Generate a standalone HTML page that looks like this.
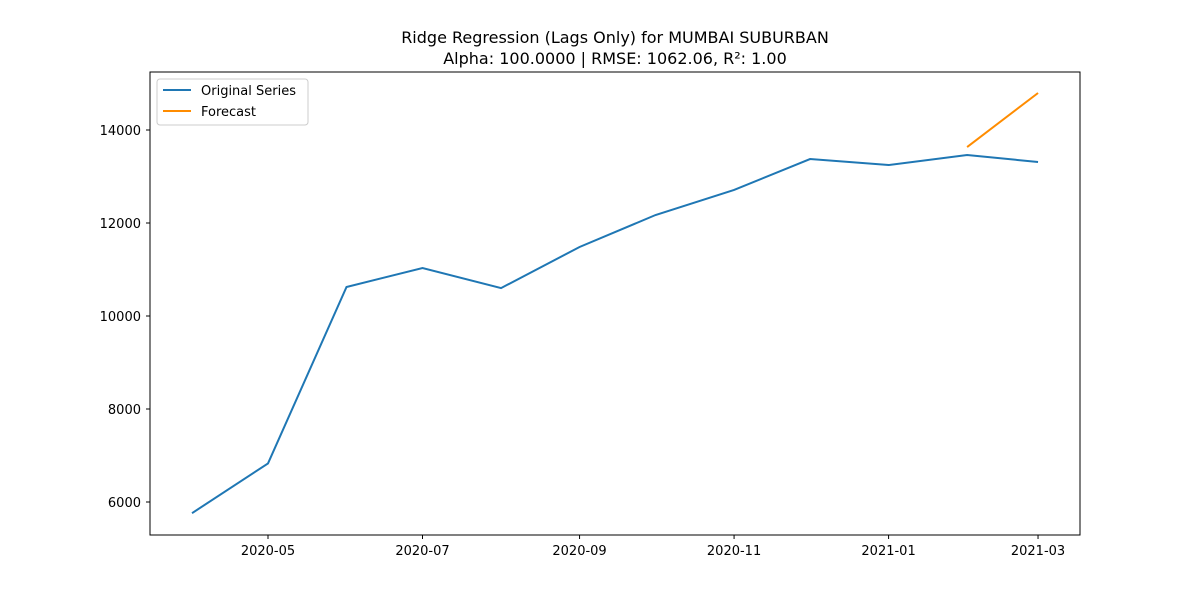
<!DOCTYPE html>
<html><head><meta charset="utf-8"><style>
body{margin:0;background:#fff;font-family:"Liberation Sans","DejaVu Sans",sans-serif}
svg text{font-family:"DejaVu Sans","Liberation Sans",sans-serif}
</style></head><body>
<svg id="chart" width="1200" height="600" xmlns="http://www.w3.org/2000/svg">
<rect width="1200" height="600" fill="#fff"/>
<text x="615" y="43" text-anchor="middle" font-size="16">Ridge Regression (Lags Only) for MUMBAI SUBURBAN</text>
<text x="615" y="64" text-anchor="middle" font-size="16">Alpha: 100.0000 | RMSE: 1062.06, R²: 1.00</text>
<g id="axes"></g>
<rect x="150" y="72" width="930" height="463" fill="none" stroke="#000" stroke-width="1"/>
<g>
<rect x="157" y="79" width="151" height="46" fill="#fff" stroke="#ccc" rx="3"/>
<g><line x1="163" y1="90" x2="191" y2="90" stroke="#1f77b4" stroke-width="2"/><text x="201" y="95" font-size="13">Original Series</text></g>
<g><line x1="163" y1="111" x2="191" y2="111" stroke="#ff8c00" stroke-width="2"/><text x="201" y="116" font-size="13">Forecast</text></g>
</g>
</svg>
<script>
const dates=["2020-04-01","2020-05-01","2020-06-01","2020-07-01","2020-08-01","2020-09-01","2020-10-01","2020-11-01","2020-12-01","2021-01-01","2021-02-01","2021-03-01"];
const original=[5760,6830,10624,11032,10600,11484,12172,12710,13376,13247,13462,13312];
const forecastDates=["2021-02-01","2021-03-01"];
const forecast=[13634,14796];
const yTicks=[6000,8000,10000,12000,14000];
const xTicks=["2020-05","2020-07","2020-09","2020-11","2021-01","2021-03"];
const NS="http://www.w3.org/2000/svg";
const t0=Date.parse("2020-05-01"),DAY=86400000;
function xs(d){return 268+(Date.parse(d)-t0)/DAY*2.533;}
function ys(v){return 502-(v-6000)*0.0465;}
const svg=document.getElementById('chart'),ax=document.getElementById('axes');
function mk(tag,attrs,parent){const e=document.createElementNS(NS,tag);for(const k in attrs)e.setAttribute(k,attrs[k]);(parent||svg).appendChild(e);return e;}
yTicks.forEach(v=>{const y=ys(v);
const l=mk('line',{x1:146,x2:150,y1:y,y2:y,stroke:'#000'},ax);


const t=mk('text',{x:141,y:y+5,'text-anchor':'end','font-size':13},ax);t.textContent=v;

});
xTicks.forEach(s=>{const x=xs(s+"-01");
const l=mk('line',{x1:x,x2:x,y1:535,y2:539,stroke:'#000'},ax);


const t=mk('text',{x:x,y:555,'text-anchor':'middle','font-size':13},ax);t.textContent=s;

});
const p1=mk('polyline',{points:dates.map((d,i)=>xs(d)+","+ys(original[i])).join(" "),fill:'none',stroke:'#1f77b4','stroke-width':2});


const p2=mk('polyline',{points:forecastDates.map((d,i)=>xs(d)+","+ys(forecast[i])).join(" "),fill:'none',stroke:'#ff8c00','stroke-width':2});


</script>
</body></html>
